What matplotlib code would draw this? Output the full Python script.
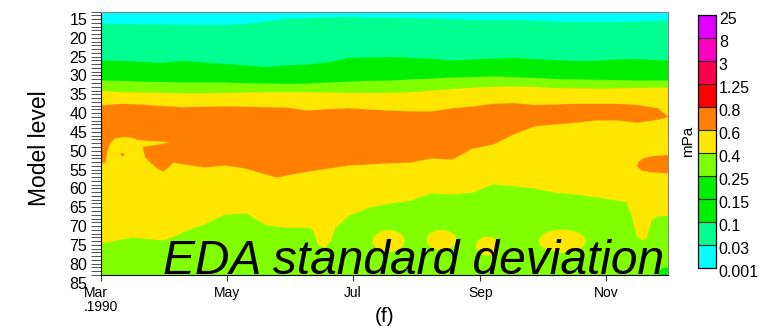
import matplotlib as mpl
import matplotlib.pyplot as plt
from matplotlib.colors import ListedColormap, BoundaryNorm
from matplotlib.patches import Ellipse
from matplotlib.ticker import MultipleLocator
from matplotlib.transforms import ScaledTranslation

plt.rcParams['font.family'] = ['Liberation Sans', 'DejaVu Sans']

# colour scale (mPa)
levels = [0.001, 0.03, 0.1, 0.15, 0.25, 0.4, 0.6, 0.8, 1.25, 3, 8, 25]
level_labels = ['0.001', '0.03', '0.1', '0.15', '0.25', '0.4', '0.6', '0.8',
                '1.25', '3', '8', '25']
colors = ['#00ffff', '#00ff90', '#00ee00', '#00ee00', '#80ff00', '#ffe600',
          '#ff8000', '#ff0000', '#ff0050', '#ff00c0', '#e000ff']

# time axis: days since 1 Mar 1990
month_days = [0, 61, 122, 184, 245]
month_labels = ['Mar\n.1990', 'May', 'Jul', 'Sep', 'Nov']
y_ticks = list(range(15, 86, 5))

# contour boundaries (model level)
days = [0, 10, 20, 30, 40, 50, 60, 70, 80, 90, 100, 110, 120, 130, 140,
        150, 160, 170, 180, 190, 200, 210, 220, 230, 240, 250, 260, 270, 275]
cyan_bottom = [18.1, 18.2, 18.3, 18.3, 18.4, 18.4, 18.4, 18.2, 17.5, 16.7,
               16.6, 16.4, 16.3, 16.5, 16.5, 16.6, 16.7, 16.9, 17.0, 17.1,
               17.1, 17.3, 17.5, 17.7, 17.7, 17.7, 17.5, 17.3, 17.3]
sgreen_bottom = [27.9, 28.0, 28.3, 28.5, 28.0, 28.4, 28.8, 29.2, 29.6, 29.2,
                 28.9, 28.4, 27.2, 27.1, 27.0, 27.2, 27.4, 27.9, 27.6, 27.4,
                 27.2, 27.5, 27.8, 28.0, 28.0, 27.6, 27.5, 27.8, 27.9]
green_bottom = [33.2, 33.3, 33.5, 33.6, 33.7, 33.7, 33.7, 33.9, 34.0, 34.1,
                34.0, 33.7, 33.5, 33.3, 33.2, 32.9, 32.7, 32.4, 32.3, 32.1,
                32.3, 32.5, 32.8, 32.9, 33.0, 33.1, 33.2, 33.2, 33.2]
chart_bottom = [36.0, 36.3, 36.4, 36.5, 36.6, 36.6, 36.5, 36.4, 36.3, 36.3,
                36.3, 36.4, 36.5, 36.5, 36.5, 36.3, 35.9, 35.5, 35.1, 34.9,
                34.8, 34.9, 35.2, 35.3, 35.4, 35.3, 35.2, 35.1, 35.1]
orange_top = [39.8, 39.4, 39.6, 40.0, 40.3, 40.2, 40.1, 40.2, 40.3, 40.4,
              41.2, 40.8, 40.6, 40.9, 41.2, 41.4, 41.4, 40.6, 40.1, 39.4,
              39.2, 39.7, 39.6, 39.4, 39.4, 39.4, 39.7, 40.6, 42.8]

orange_days = [0, 1.9, 2.9, 4.4, 6.8, 11.6, 15.5, 17.9, 19.4, 20.3, 21.3,
               23.7, 27.1, 30.0, 32.4, 34.9, 40, 50, 60, 70, 80, 85.2, 90,
               100, 110, 120, 130, 140, 150, 160, 170, 180, 190, 200, 210,
               220, 230, 240, 250, 260, 270, 275]
orange_bottom = [55.2, 55.0, 51.8, 49.7, 48.5, 48.2, 48.5, 49.1, 49.9, 51.8,
                 53.7, 55.0, 56.6, 57.4, 56.3, 55.0, 55.5, 56.3, 55.8, 56.6,
                 58.2, 59.0, 58.4, 57.4, 56.6, 55.8, 55.5, 55.2, 55.0, 53.9,
                 54.2, 51.3, 50.2, 47.5, 45.4, 44.9, 44.4, 43.8, 43.8, 44.4,
                 43.6, 42.9]

low_days = [0, 10.2, 15.5, 19.9, 30, 35.8, 41.6, 49.9, 60, 70.2, 79.9, 90.1,
            99.8, 102.7, 105.1, 108.5, 111.4, 113.3, 120.1, 130.3, 140,
            150.1, 159.8, 170, 180.1, 189.8, 200, 210.2, 219.9, 230, 240.2,
            249.9, 254.7, 257.1, 259.6, 262, 264.4, 266.8, 269.7, 275]
low_top = [76.5, 75.4, 74.9, 75.2, 75.7, 74.6, 73.0, 71.5, 68.8, 68.5, 71.7,
           72.3, 72.3, 73.0, 77.0, 77.6, 75.7, 72.5, 69.1, 66.9, 65.9, 65.1,
           63.2, 63.5, 63.0, 60.8, 61.3, 61.9, 63.0, 63.5, 64.3, 65.1, 65.6,
           69.1, 74.4, 75.7, 75.2, 70.4, 69.3, 69.1]

# small features
beak_days = [17.9, 23.7, 28.6, 33.4, 28.6, 23.7, 19.4, 17.9]
beak_levels = [49.1, 49.4, 49.5, 49.8, 50.3, 50.7, 51.0, 50.2]
patch_days = [275, 268.3, 263.4, 260.5, 260.0, 262.0, 266.8, 275]
patch_levels = [53.1, 53.4, 53.9, 55.0, 56.1, 57.2, 57.7, 58.0]
dot_day, dot_level = 10.2, 52.9
# yellow blobs near the bottom: centre day, centre level, width, height
blob_day = [139.5, 165.1, 187.4, 223.7]
blob_level = [76.0, 75.7, 77.3, 76.0]
blob_w = [15.5, 14.5, 11.1, 22.8]
blob_h = [5.8, 5.3, 5.0, 6.1]

fig = plt.figure(figsize=(7.77, 3.27), dpi=100)
ax = fig.add_axes([101 / 777, 1 - 275 / 327, 567 / 777, 263.5 / 327])

ax.fill_between(days, 15, 85, color=colors[0], lw=0)
ax.fill_between(days, cyan_bottom, 85, color=colors[1], lw=0)
ax.fill_between(days, sgreen_bottom, 85, color=colors[2], lw=0)
ax.fill_between(days, green_bottom, 85, color=colors[4], lw=0)
ax.fill_between(days, chart_bottom, 85, color=colors[5], lw=0)
ax.fill_between(days, orange_top, 85, color=colors[6], lw=0)
ax.fill_between(orange_days, orange_bottom, 85, color=colors[5], lw=0)
ax.fill(beak_days, beak_levels, color=colors[5], lw=0)
ax.fill(patch_days, patch_levels, color=colors[6], lw=0)
ax.scatter([dot_day], [dot_level], s=6, color=colors[6], lw=0)
ax.fill_between(low_days, low_top, 85, color=colors[4], lw=0)
for d, l, w, h in zip(blob_day, blob_level, blob_w, blob_h):
    ax.add_patch(Ellipse((d, l), w, h, color=colors[5], lw=0))
ax.add_patch(Ellipse((275, 85), 10, 4, color=colors[2], lw=0))

ax.set_xlim(0, 275)
ax.set_ylim(85, 15)
ax.set_xticks(month_days, month_labels, linespacing=0.95,
              multialignment='left')
ax.set_yticks(y_ticks, [str(v) for v in y_ticks])
ax.yaxis.set_minor_locator(MultipleLocator(1))
ax.tick_params(axis='y', which='both', direction='out', length=7, width=0.6,
               color='#333333', labelsize=11.5, pad=3)
ax.tick_params(axis='x', direction='out', length=4, width=0.8,
               color='#333333', labelsize=10, pad=4)
for s in ['top', 'right']:
    ax.spines[s].set_color('#888888')
for s in ax.spines:
    ax.spines[s].set_linewidth(0.8)

off = ScaledTranslation(0, -7.5 / 100, fig.dpi_scale_trans)
for lab in ax.get_yticklabels():
    lab.set_transform(lab.get_transform() + off)

# colorbar
cax = fig.add_axes([698 / 777, 1 - 268 / 327, 18 / 777, 253 / 327])
cmap = ListedColormap(colors)
norm = BoundaryNorm(levels, cmap.N)
cb = fig.colorbar(mpl.cm.ScalarMappable(norm=norm, cmap=cmap), cax=cax,
                  boundaries=levels, spacing='uniform', ticks=levels,
                  drawedges=True)
cb.ax.set_yticklabels(level_labels)
cb.ax.tick_params(length=0, labelsize=11.5, pad=2)
cb.outline.set_linewidth(0.9)
cb.dividers.set_color('#222222')
cb.dividers.set_linewidth(0.8)
cb.set_label('mPa', fontsize=11, labelpad=2)
cb.ax.yaxis.set_label_position('left')
off2 = ScaledTranslation(0, -3 / 100, fig.dpi_scale_trans)
for lab in cb.ax.get_yticklabels():
    lab.set_transform(lab.get_transform() + off2)

fig.text(40 / 777, 1 - 148 / 327, 'Model level', rotation=90, fontsize=16.5,
         ha='center', va='center')
fig.text(163 / 777, 1 - 274 / 327, 'EDA standard deviation', fontsize=34.5,
         style='italic', ha='left', va='baseline')
fig.text(385 / 777, 1 - 316 / 327, '(f)', fontsize=15, ha='center', va='center')

fig.savefig('out.png', dpi=100)
